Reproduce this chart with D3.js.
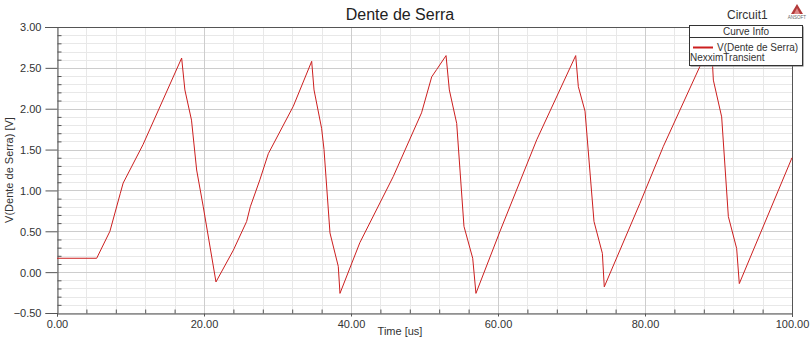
<!DOCTYPE html>
<html><head><meta charset="utf-8">
<script src="https://cdn.jsdelivr.net/npm/d3@7"></script>
<style>
html,body{margin:0;padding:0;background:#fff;}
svg{display:block;font-family:"Liberation Sans",Arial,sans-serif;}
</style></head><body>
<svg id="c" width="812" height="341"></svg>
<script>
// Data: time [us] and voltage [V]
const timeUs = [0, 5.4, 7.2, 8.6, 9.0, 11.7, 16.96, 17.4, 18.3, 19.0, 19.9, 21.63,
  24.0, 25.8, 26.3, 27.6, 28.75, 32.15, 34.65, 34.97, 36.0, 36.33, 37.14, 38.27, 38.5,
  41.2, 45.75, 49.6, 50.98, 51.66, 52.93, 53.38, 54.38, 55.37, 56.56, 57.0,
  60.27, 65.27, 70.57, 70.93, 71.84, 73.06, 74.2, 74.46,
  79.3, 82.5, 87.48, 88.5, 89.2, 89.3, 90.43, 91.34, 92.47, 92.83, 100];
const voltage = [0.17, 0.17, 0.50, 0.96, 1.09, 1.56, 2.62, 2.23, 1.86, 1.25, 0.80, -0.12,
  0.27, 0.62, 0.80, 1.13, 1.45, 2.03, 2.58, 2.23, 1.76, 1.50, 0.48, 0.07, -0.26,
  0.36, 1.17, 1.95, 2.39, 2.48, 2.65, 2.23, 1.82, 0.56, 0.17, -0.26,
  0.50, 1.62, 2.65, 2.27, 1.97, 0.62, 0.23, -0.18,
  0.84, 1.54, 2.52, 2.65, 2.52, 2.35, 1.90, 0.68, 0.29, -0.14, 1.40];
const xMajorTicks = [0, 20, 40, 60, 80, 100];
const yMajorTicks = [-0.5, 0, 0.5, 1.0, 1.5, 2.0, 2.5, 3.0];
const chartTitle = "Dente de Serra";
const xLabel = "Time [us]";
const yLabel = "V(Dente de Serra) [V]";
const seriesName = "V(Dente de Serra)";
const sourceName = "NexximTransient";

const svg = d3.select("#c");
const L = 57, R = 792, T = 27, B = 313;
const x = d3.scaleLinear().domain([0, 100]).range([L, R]);
const y = d3.scaleLinear().domain([-0.5, 3.0]).range([B, T]);

const xMinor = d3.range(0, 100.001, 4).filter(v => v % 20 !== 0);
const yMinor = d3.range(-5, 31).map(v => v / 10).filter(v => Math.abs(v * 2 - Math.round(v * 2)) > 1e-6);

const g = svg.append("g");
// minor grid
g.selectAll(".vmin").data(xMinor).enter().append("line")
  .attr("x1", d => Math.round(x(d)) + 0.5).attr("x2", d => Math.round(x(d)) + 0.5)
  .attr("y1", T).attr("y2", B).attr("stroke", "#e8e8e8");
g.selectAll(".hmin").data(yMinor).enter().append("line")
  .attr("y1", d => Math.round(y(d)) + 0.5).attr("y2", d => Math.round(y(d)) + 0.5)
  .attr("x1", L).attr("x2", R).attr("stroke", "#e8e8e8");
// major grid
g.selectAll(".vmaj").data(xMajorTicks).enter().append("line")
  .attr("x1", d => Math.round(x(d)) + 0.5).attr("x2", d => Math.round(x(d)) + 0.5)
  .attr("y1", T).attr("y2", B).attr("stroke", "#cdcdcd");
g.selectAll(".hmaj").data(yMajorTicks).enter().append("line")
  .attr("y1", d => Math.round(y(d)) + 0.5).attr("y2", d => Math.round(y(d)) + 0.5)
  .attr("x1", L).attr("x2", R).attr("stroke", "#cdcdcd");

// axes
const yAxis = d3.axisLeft(y).tickValues(yMajorTicks).tickFormat(d3.format(".2f")).tickSize(12).tickPadding(4);
const yg = svg.append("g").attr("transform", `translate(${L + 0.5},0)`).call(yAxis);
const yAxisMinor = d3.axisLeft(y).tickValues(yMinor).tickFormat("").tickSize(4);
svg.append("g").attr("transform", `translate(${L + 4.5},0)`).call(yAxisMinor).select(".domain").remove();

const xAxis = d3.axisBottom(x).tickValues(xMajorTicks).tickFormat(d3.format(".2f")).tickSize(3).tickPadding(4);
const xg = svg.append("g").attr("transform", `translate(0,${B + 0.5})`).call(xAxis);
const xAxisMinor = d3.axisTop(x).tickValues(xMinor).tickFormat("").tickSize(4);
svg.append("g").attr("transform", `translate(0,${B + 0.5})`).call(xAxisMinor).select(".domain").remove();

svg.selectAll(".tick text").attr("font-size", 11).attr("fill", "#333")
  .attr("font-family", "'Liberation Sans',Arial,sans-serif");
svg.selectAll(".tick line").attr("stroke", "#555");
svg.selectAll(".domain").attr("stroke", "#555");
yg.selectAll(".tick text").attr("dy", "0.35em");

// top and right borders
svg.append("line").attr("x1", L - 12).attr("x2", R + 0.5).attr("y1", T + 0.5).attr("y2", T + 0.5).attr("stroke", "#555");
svg.append("line").attr("x1", R + 0.5).attr("x2", R + 0.5).attr("y1", T).attr("y2", B + 4).attr("stroke", "#555");

// series
const pts = timeUs.map((t, i) => [t, voltage[i]]);
svg.append("path").datum(pts)
  .attr("d", d3.line().x(d => x(d[0])).y(d => y(d[1])))
  .attr("fill", "none").attr("stroke", "#cc1f1f").attr("stroke-width", 1);

// title
svg.append("text").attr("x", 400).attr("y", 20).attr("text-anchor", "middle")
  .attr("font-size", 16).attr("fill", "#222").text(chartTitle);
svg.append("text").attr("x", 727).attr("y", 19).attr("font-size", 12).attr("fill", "#333").text("Circuit1");
// logo
svg.append("path").attr("d", "M797,4 L803,14 L791,14 Z").attr("fill", "#b33a3a");
svg.append("path").attr("d", "M797,8 L800,14 L794,14 Z").attr("fill", "#d88");
svg.append("text").attr("x", 797).attr("y", 19).attr("text-anchor", "middle")
  .attr("font-size", 4.5).attr("fill", "#666").text("ANSOFT");

// axis labels
svg.append("text").attr("x", 400).attr("y", 335).attr("text-anchor", "middle")
  .attr("font-size", 11).attr("fill", "#333").text(xLabel);
svg.append("text").attr("transform", "translate(13,170) rotate(-90)").attr("text-anchor", "middle")
  .attr("font-size", 11).attr("fill", "#333").text(yLabel);

// legend
const lg = svg.append("g");
lg.append("rect").attr("x", 690.5).attr("y", 26.5).attr("width", 113).attr("height", 40)
  .attr("fill", "#666");
lg.append("rect").attr("x", 689.5).attr("y", 25.5).attr("width", 113).attr("height", 40)
  .attr("fill", "#fff").attr("stroke", "#333");
lg.append("text").attr("x", 746).attr("y", 35).attr("text-anchor", "middle")
  .attr("font-size", 10).attr("fill", "#333").text("Curve Info");
lg.append("line").attr("x1", 689.5).attr("x2", 802.5).attr("y1", 37.5).attr("y2", 37.5).attr("stroke", "#333");
lg.append("line").attr("x1", 693).attr("x2", 713).attr("y1", 47.5).attr("y2", 47.5)
  .attr("stroke", "#cc1f1f").attr("stroke-width", 2);
lg.append("text").attr("x", 717).attr("y", 51).attr("font-size", 10).attr("fill", "#333").text(seriesName);
lg.append("text").attr("x", 690).attr("y", 61).attr("font-size", 10).attr("fill", "#333").text(sourceName);
</script></body></html>
